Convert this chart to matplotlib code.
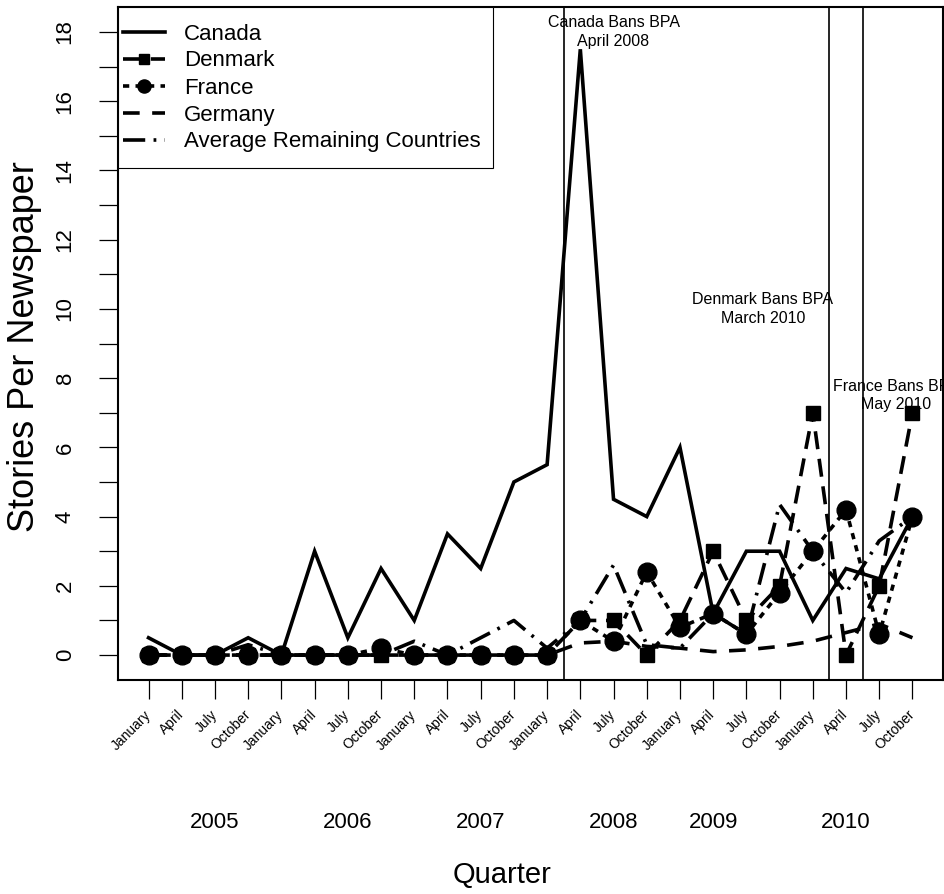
import matplotlib
matplotlib.use("Agg")
import matplotlib.pyplot as plt
from matplotlib.lines import Line2D
from matplotlib.patches import Rectangle
from matplotlib.transforms import blended_transform_factory

plt.rcParams["font.family"] = ["Liberation Sans", "DejaVu Sans"]
plt.rcParams["lines.scale_dashes"] = False

# Quarterly newspaper coverage, January 2005 - October 2010
months = ["January", "April", "July", "October"] * 6
years = ["2005", "2006", "2007", "2008", "2009", "2010"]
year_pos = [3, 7, 11, 15, 18, 22]

canada = [0.5, 0, 0, 0.5, 0, 3.0, 0.5, 2.5, 1.0, 3.5, 2.5, 5.0,
          5.5, 17.5, 4.5, 4.0, 6.0, 1.2, 3.0, 3.0, 1.0, 2.5, 2.2, 4.0]
denmark = [0, 0, 0, 0, 0, 0, 0, 0, 0, 0, 0, 0,
           0, 1.0, 1.0, 0, 1.0, 3.0, 1.0, 2.0, 7.0, 0, 2.0, 7.0]
france = [0, 0, 0, 0, 0, 0, 0, 0.2, 0, 0, 0, 0,
          0, 1.0, 0.4, 2.4, 0.8, 1.2, 0.6, 1.8, 3.0, 4.2, 0.6, 4.0]
germany = [0, 0, 0, 0, 0, 0, 0, 0, 0, 0, 0, 0,
           0, 0.35, 0.4, 0.25, 0.2, 0.1, 0.15, 0.25, 0.4, 0.65, 0.9, 0.5]
avg_rest = [0, 0, 0, 0.3, 0, 0, 0, 0, 0.4, 0, 0.5, 1.0,
            0.2, 1.0, 2.6, 0.3, 0.2, 1.2, 0.6, 4.35, 3.0, 1.8, 3.3, 4.0]

ban_lines = [13.5, 21.5, 22.5]
ban_labels = ["Canada Bans BPA\nApril 2008",
              "Denmark Bans BPA\nMarch 2010",
              "France Bans BPA\nMay 2010"]
ban_label_pos = [(15, 18), (19.5, 10), (23.5, 7.5)]

x = list(range(1, len(months) + 1))

W, H = 944, 894
fig = plt.figure(figsize=(W / 100, H / 100), dpi=100)
ax_l, ax_r, ax_t, ax_b = 118, 943, 7, 680
ax = fig.add_axes([ax_l / W, 1 - ax_b / H, (ax_r - ax_l) / W, (ax_b - ax_t) / H])
aw, ah = ax_r - ax_l, ax_b - ax_t

LW = 2.6
styles = {
    "Canada": dict(color="black", lw=LW, linestyle="-",
                   solid_joinstyle="miter"),
    "Denmark": dict(color="black", lw=LW, linestyle=(0, (13, 7)),
                    marker="s", markersize=9.5),
    "France": dict(color="black", lw=LW, linestyle=(0, (4.5, 4.5)),
                   marker="o", markersize=13.5),
    "Germany": dict(color="black", lw=LW, linestyle=(0, (12, 9))),
    "Average Remaining Countries": dict(color="black", lw=LW,
                                        linestyle=(0, (16, 6, 2, 6))),
}
series = {
    "Canada": canada,
    "Denmark": denmark,
    "France": france,
    "Germany": germany,
    "Average Remaining Countries": avg_rest,
}

for name, vals in series.items():
    ax.plot(x, vals, **styles[name], zorder=3)

for xv in ban_lines:
    ax.axvline(xv, color="black", lw=1.2, zorder=2)

for (tx, ty), txt in zip(ban_label_pos, ban_labels):
    ax.text(tx, ty, txt, ha="center", va="center", fontsize=11.5,
            linespacing=1.3, clip_on=True, zorder=4)

ax.set_xlim(0.08, 24.92)
ax.set_ylim(-0.72, 18.72)

ax.set_xticks(x)
ax.set_xticklabels(months, rotation=45, ha="right", va="center",
                   rotation_mode="anchor", fontsize=10)
ax.tick_params(axis="x", length=13.5, width=0.9, pad=10)

yt = list(range(0, 19))
ax.set_yticks(yt)
ax.set_yticklabels([str(v) if v % 2 == 0 else "" for v in yt],
                   rotation=90, va="center", fontsize=16)
ax.tick_params(axis="y", length=13.5, width=0.9, pad=17)

for sp in ax.spines.values():
    sp.set_linewidth(1.5)

trans = blended_transform_factory(ax.transData, fig.transFigure)
for yp, yl in zip(year_pos, years):
    ax.text(yp, 1 - 822 / H, yl, transform=trans, ha="center",
            va="center", fontsize=16)

fig.text(502 / W, 1 - 875 / H, "Quarter", ha="center", va="center",
         fontsize=21)
fig.text(25 / W, 1 - 347 / H, "Stories Per Newspaper", ha="center",
         va="center", rotation=90, fontsize=26)

# legend box in the top-left corner of the plot region
box_r, box_b = 493, 168
frame = Rectangle((0, 1 - (box_b - ax_t) / ah), (box_r - ax_l) / aw,
                  (box_b - ax_t) / ah, transform=ax.transAxes,
                  facecolor="white", edgecolor="black", lw=0.8,
                  zorder=5, clip_on=False)
ax.add_patch(frame)

handles = [Line2D([], [], **styles[name]) for name in series]
leg = ax.legend(handles, list(series.keys()), loc="upper left",
                bbox_to_anchor=(5 / aw, 1 - (23.5 - ax_t) / ah),
                borderaxespad=0, borderpad=0, fontsize=16,
                handlelength=1.9, handletextpad=0.85,
                labelspacing=0.27, frameon=False, markerscale=0.7)
leg.set_zorder(6)

fig.savefig("out.png", dpi=100)
